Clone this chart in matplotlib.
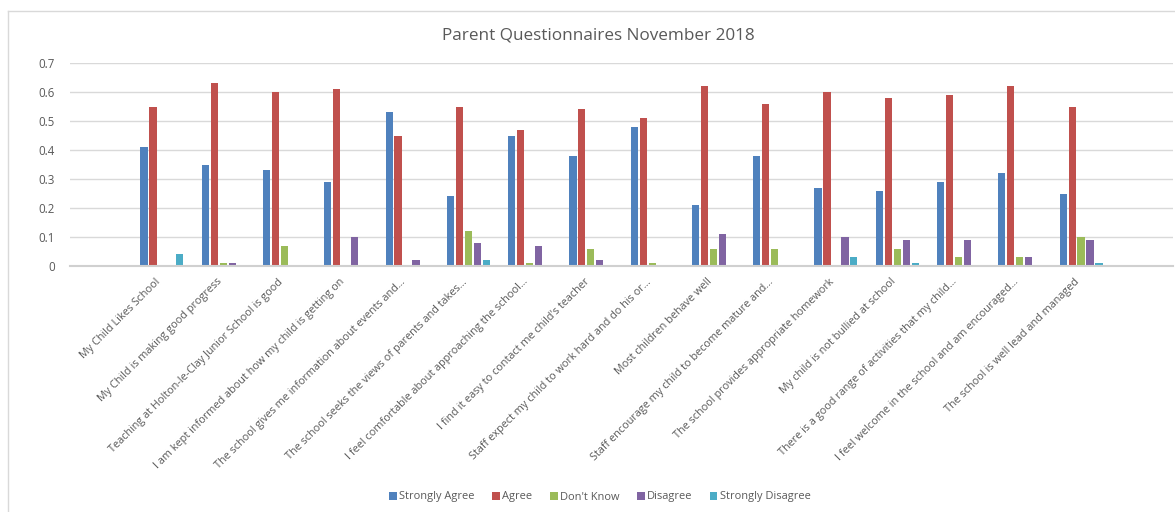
import numpy as np
import matplotlib
matplotlib.use("Agg")
import matplotlib.pyplot as plt
import matplotlib.transforms as mtransforms
from matplotlib.lines import Line2D

plt.rcParams['font.family'] = ['Open Sans', 'DejaVu Sans']

# questions (blank first/last slot as in the source sheet)
questions = ["",
    "My Child Likes School",
    "My Child is making good progress",
    "Teaching at Holton-le-Clay Junior School is good",
    "I am kept informed about how my child is getting on",
    "The school gives me information about events and...",
    "The school seeks the views of parents and takes...",
    "I feel comfortable about approaching the school...",
    "I find it easy to contact me child's teacher",
    "Staff expect my child to work hard and do his or...",
    "Most children behave well",
    "Staff encourage my child to become mature and...",
    "The school provides appropriate homework",
    "My child is not bullied at school",
    "There is a good range of activities that my child...",
    "I feel welcome in the school and am encouraged...",
    "The school is well lead and managed",
    ""]

strongly_agree = [0, 0.41, 0.35, 0.33, 0.29, 0.53, 0.24, 0.45, 0.38, 0.48, 0.21, 0.38, 0.27, 0.26, 0.29, 0.32, 0.25, 0]
agree = [0, 0.55, 0.63, 0.60, 0.61, 0.45, 0.55, 0.47, 0.54, 0.51, 0.62, 0.56, 0.60, 0.58, 0.59, 0.62, 0.55, 0]
dont_know = [0, 0, 0.01, 0.07, 0, 0, 0.12, 0.01, 0.06, 0.01, 0.06, 0.06, 0, 0.06, 0.03, 0.03, 0.10, 0]
disagree = [0, 0, 0.01, 0, 0.10, 0.02, 0.08, 0.07, 0.02, 0, 0.11, 0, 0.10, 0.09, 0.09, 0.03, 0.09, 0]
strongly_disagree = [0, 0.04, 0, 0, 0, 0, 0.02, 0, 0, 0, 0, 0, 0.03, 0.01, 0, 0, 0.01, 0]

series = [("Strongly Agree", strongly_agree, "#4f81bd"),
          ("Agree", agree, "#c0504d"),
          ("Don't Know", dont_know, "#9bbb59"),
          ("Disagree", disagree, "#8064a2"),
          ("Strongly Disagree", strongly_disagree, "#4bacc6")]

W, H = 1175, 512
fig = plt.figure(figsize=(W / 100, H / 100), dpi=100)
ax = fig.add_axes([70 / W, 1 - 266 / H, (1173 - 70) / W, (266 - 63) / H])

x = np.arange(len(questions))
bw = 0.117
slot = 0.146
for i, (name, vals, col) in enumerate(series):
    v = np.array(vals)
    ax.bar(x + (i - 2) * slot, v, width=bw, color=col, label=name, linewidth=0)

ax.set_xlim(-0.5, len(questions) - 0.5)
ax.set_ylim(0, 0.7)
ax.set_yticks(np.arange(0, 0.71, 0.1))
ax.set_yticklabels(["0", "0.1", "0.2", "0.3", "0.4", "0.5", "0.6", "0.7"])
ax.yaxis.grid(True, color="#d9d9d9", linewidth=1)
ax.set_axisbelow(True)
for s in ["top", "right", "left"]:
    ax.spines[s].set_visible(False)
ax.spines["bottom"].set_color("#d0d0d0")
ax.spines["bottom"].set_linewidth(1.5)
ax.tick_params(axis="y", length=0, pad=11, labelsize=8.3, labelcolor="#595959")
ax.tick_params(axis="x", length=0, pad=6, labelsize=7.8, labelcolor="#595959")
ax.set_xticks(x)
ax.set_xticklabels(questions, rotation=45, ha="right", rotation_mode="anchor")
shift = mtransforms.ScaledTranslation(-7 / 100, -2 / 100, fig.dpi_scale_trans)
for lab in ax.get_xticklabels():
    lab.set_transform(lab.get_transform() + shift)

fig.text(598 / W, 1 - 35 / H, "Parent Questionnaires November 2018",
         ha="center", va="center", fontsize=12.3, color="#595959")

ax.legend(loc="center", bbox_to_anchor=(600 / W, 1 - 497 / H),
          bbox_transform=fig.transFigure, ncol=5, frameon=False,
          fontsize=7.9, labelcolor="#595959", handlelength=0.7,
          handleheight=0.7, handletextpad=0.2, columnspacing=1.6)

# chart border (top and left edges visible in the crop)
fig.add_artist(Line2D([8 / W, 1], [1 - 11 / H, 1 - 11 / H], color="#d9d9d9", linewidth=1))
fig.add_artist(Line2D([8 / W, 8 / W], [0, 1 - 11 / H], color="#d9d9d9", linewidth=1))

fig.savefig("out.png", dpi=100, facecolor="white")
